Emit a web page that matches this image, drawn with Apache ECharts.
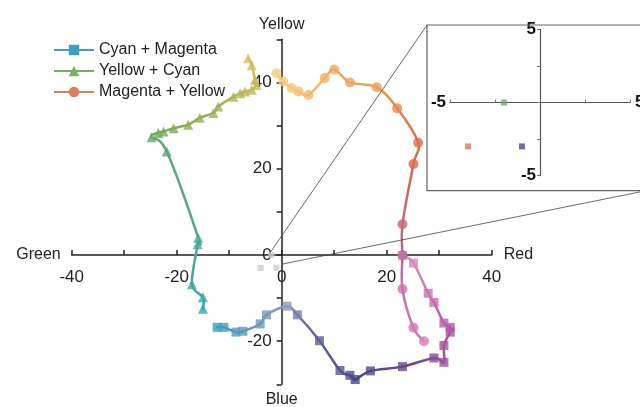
<!DOCTYPE html>
<html><head><meta charset="utf-8">
<script src="https://cdn.jsdelivr.net/npm/echarts@6/dist/echarts.min.js"></script>
<style>html,body{margin:0;padding:0;background:#fff}#c{width:640px;height:407px}</style>
</head><body><div id="c"></div>
<script>
// ---------- data ----------
const seriesNames = ['Cyan + Magenta', 'Yellow + Cyan', 'Magenta + Yellow'];

// Cyan + Magenta (squares), from cyan end to magenta end
const cmX = [-12.3, -11.0, -8.7, -7.4, -4.1, -2.9, 1.0, 3.0, 7.2, 11.1, 13.0, 14.0, 16.9, 23.0, 29.0, 30.9, 30.9, 32.1, 32.1, 30.9, 29.0, 27.9, 25.1, 23.0];
const cmY = [-16.8, -16.8, -17.9, -17.7, -16.0, -13.9, -11.9, -13.9, -19.9, -26.8, -27.9, -28.9, -26.9, -25.9, -23.9, -24.9, -21.0, -17.9, -16.8, -15.8, -11.0, -8.9, -1.9, -0.1];

// Yellow + Cyan (triangles), from yellow end to cyan end
const ycX = [-6.4, -5.7, -5.1, -4.8, -5.7, -7.0, -7.9, -9.2, -12.1, -13.0, -15.6, -17.8, -20.6, -22.5, -23.5, -24.8, -21.9, -15.9, -16.0, -17.1, -15.0, -15.0];
const ycY = [45.6, 44.0, 40.6, 39.4, 38.3, 37.9, 37.5, 36.7, 34.4, 32.9, 31.8, 30.2, 29.4, 28.6, 28.3, 27.3, 24.0, 4.0, 2.5, -6.8, -9.8, -12.5];

// Magenta + Yellow (circles), from magenta end to yellow end
const myX = [27.1, 25.1, 23.0, 23.0, 23.0, 25.1, 26.0, 22.0, 18.1, 13.0, 10.0, 8.2, 5.1, 3.2, 1.9, 0.3, -1.0];
const myY = [-20.0, -16.9, -7.9, -0.1, 7.1, 21.1, 26.0, 34.0, 38.9, 40.0, 43.0, 41.0, 37.1, 37.9, 38.7, 40.2, 42.1];

// starting (near-neutral) points shown in the inset
const startX = [-2, -4, -1];
const startY = [0, -3, -3];

// axis ranges and tick labels
const mainXRange = [-40, 40];
const mainYRange = [-30, 50];
const insetRange = [-5, 5];
const mainXLabels = [-40, -20, 0, 20, 40];
const mainYLabels = [-20, 0, 20, 40];
const insetLabels = [-5, 5];

// zoom anchor points (main chart data coords) for connector lines
const zoomFromX = [-2.1, 0];
const zoomFromY = [0.7, -2.15];

// ---------- layout / styles ----------
const FONT = 'Liberation Sans, Arial, sans-serif';
const mainGrid = {left:71.7, top:39.3, width:420, height:345};
const insetGrid = {left:450, top:29.3, width:180, height:146.4};
// offsets so that the axes cross at data zero
const zeroFrac = (r) => (0 - r[0]) / (r[1] - r[0]);
const mainYOff = -zeroFrac(mainXRange) * mainGrid.width;
const mainXOff = -zeroFrac(mainYRange) * mainGrid.height;
const insetYOff = -zeroFrac(insetRange) * insetGrid.width;
const insetXOff = -zeroFrac(insetRange) * insetGrid.height;

const legendColors = ['#3d9fc2', '#72b45c', '#e07a58'];
const startColors = ['#6aaa6a', '#e07a50', '#4a4a90'];
const paleColor = '#c6d0d6';
const cmStops = [[0,'#3a9cc2'],[0.2,'#6f98b8'],[0.26,'#8c9cbc'],[0.35,'#5c5e9a'],[0.48,'#444686'],[0.57,'#6a4890'],[0.65,'#a04f9e'],[0.8,'#b656a8'],[0.92,'#cc78b0'],[1,'#e29ab8']];
const ycStops = [[0,'#d6c05a'],[0.3,'#b4b458'],[0.55,'#86ac54'],[0.72,'#62a864'],[0.82,'#4ea89a'],[1,'#2fa6b2']];
const myStops = [[0,'#dc7cb8'],[0.125,'#cf70aa'],[0.19,'#b86a98'],[0.25,'#c86a74'],[0.31,'#d8684e'],[0.375,'#e06e48'],[0.44,'#e8884c'],[0.5,'#ec9c56'],[0.625,'#f0aa5c'],[0.75,'#f3b868'],[1,'#f8cc84']];

function hex2rgb(h){h=h.replace('#','');return [parseInt(h.substr(0,2),16),parseInt(h.substr(2,2),16),parseInt(h.substr(4,2),16)];}
function colorAt(stops, t){
  for (let k=1;k<stops.length;k++){
    if (t<=stops[k][0]+1e-9){
      const a=stops[k-1], b=stops[k];
      const f=(t-a[0])/((b[0]-a[0])||1);
      const ca=hex2rgb(a[1]), cb=hex2rgb(b[1]);
      return 'rgb('+ca.map((v,j)=>Math.round(v+(cb[j]-v)*f)).join(',')+')';
    }
  }
  return stops[stops.length-1][1];
}
function colorsFor(xs, stops){ const n=xs.length; return xs.map((_,i)=>colorAt(stops, i/(n-1))); }

function trail(xs, ys, stops){
  const n = xs.length, cols = colorsFor(xs, stops);
  const cl = k => Math.max(0, Math.min(n-1, k));
  return {
    type:'custom', xAxisIndex:0, yAxisIndex:0, z:2, silent:true, clip:false,
    data: xs.map((x,i)=>[x, ys[i]]), encode:{x:0, y:1},
    renderItem: function(params, api){
      const i = params.dataIndex;
      if (i === 0) return null;
      const P = k => { k = cl(k); return api.coord([xs[k], ys[k]]); };
      const p0=P(i-2), p1=P(i-1), p2=P(i), p3=P(i+1), s=1/6;
      return {
        type:'bezierCurve',
        shape:{x1:p1[0],y1:p1[1],x2:p2[0],y2:p2[1],
          cpx1:p1[0]+(p2[0]-p0[0])*s, cpy1:p1[1]+(p2[1]-p0[1])*s,
          cpx2:p2[0]-(p3[0]-p1[0])*s, cpy2:p2[1]-(p3[1]-p1[1])*s},
        style:{fill:'none', lineWidth:2.5, lineCap:'round',
          stroke:new echarts.graphic.LinearGradient(p1[0],p1[1],p2[0],p2[1],
            [{offset:0,color:cols[i-1]},{offset:1,color:cols[i]}], true)}
      };
    }
  };
}
function marks(xs, ys, stops, symbol, size){
  const cols = colorsFor(xs, stops);
  return {type:'scatter', xAxisIndex:0, yAxisIndex:0, z:3, silent:true, symbol:symbol, symbolSize:size,
    data: xs.map((x,i)=>({value:[x, ys[i]], itemStyle:{color:cols[i]}}))};
}

const axisColor = '#222';
const lblStyle = {fontFamily:FONT, fontSize:17, color:axisColor};
const nameStyle = {fontFamily:FONT, fontSize:16, color:axisColor};
const hidden = {axisTick:{show:false}, axisLabel:{show:false}, splitLine:{show:false}};

const chart = echarts.init(document.getElementById('c'), null, {renderer:'canvas'});
const option = {
  animation:false,
  backgroundColor:'#fff',
  textStyle:{fontFamily:FONT},
  legend:{
    orient:'vertical', left:48, top:37, itemWidth:40, itemHeight:13, itemGap:5,
    textStyle:{fontFamily:FONT, fontSize:16, color:'#222'},
    data: seriesNames
  },
  grid:[
    Object.assign({outerBoundsMode:'none', containLabel:false}, mainGrid),
    Object.assign({outerBoundsMode:'none', containLabel:false}, insetGrid)
  ],
  xAxis:[
    {gridIndex:0, type:'value', min:mainXRange[0], max:mainXRange[1], interval:10, position:'bottom', offset:mainXOff,
     name:'Red', nameLocation:'end', nameGap:12, nameTextStyle:Object.assign({verticalAlign:'middle'}, nameStyle),
     axisLine:{onZero:false, lineStyle:{color:axisColor, width:1.5}},
     axisTick:{inside:true, length:5, lineStyle:{color:axisColor, width:1.5}},
     axisLabel:Object.assign({margin:14, formatter:v=>mainXLabels.includes(v)?String(v):''}, lblStyle),
     splitLine:{show:false}},
    Object.assign({gridIndex:0, type:'value', min:mainXRange[0], max:mainXRange[1], interval:10, position:'bottom', offset:mainXOff,
     name:'Green', nameLocation:'start', nameGap:11, nameTextStyle:Object.assign({verticalAlign:'middle'}, nameStyle)},
     hidden, {axisLine:{show:false, onZero:false}}),
    {gridIndex:1, type:'value', min:insetRange[0], max:insetRange[1], interval:2.5, position:'bottom', offset:insetXOff,
     axisLine:{onZero:false, lineStyle:{color:'#555', width:1.2}},
     axisTick:{inside:true, length:3, lineStyle:{color:'#777', width:1}},
     axisLabel:{margin:0, verticalAlign:'middle', alignMinLabel:'right', alignMaxLabel:'left',
       padding:[0,4,0,5], fontFamily:FONT, fontSize:17, fontWeight:'bold', color:'#111',
       formatter:v=>insetLabels.includes(v)?String(v):''},
     splitLine:{show:false}}
  ],
  yAxis:[
    {gridIndex:0, type:'value', min:mainYRange[0], max:mainYRange[1], interval:10, position:'left', offset:mainYOff,
     name:'Yellow', nameLocation:'end', nameGap:7, nameTextStyle:nameStyle,
     axisLine:{onZero:false, lineStyle:{color:axisColor, width:1.5}},
     axisTick:{inside:false, length:5, lineStyle:{color:axisColor, width:1.5}},
     axisLabel:Object.assign({margin:10, formatter:v=>mainYLabels.includes(v)?String(v):''}, lblStyle),
     splitLine:{show:false}},
    Object.assign({gridIndex:0, type:'value', min:mainYRange[0], max:mainYRange[1], interval:10, position:'left', offset:mainYOff,
     name:'Blue', nameLocation:'start', nameGap:7, nameTextStyle:nameStyle},
     hidden, {axisLine:{show:false, onZero:false}}),
    {gridIndex:1, type:'value', min:insetRange[0], max:insetRange[1], interval:2.5, position:'left', offset:insetYOff,
     axisLine:{onZero:false, lineStyle:{color:'#555', width:1.2}},
     axisTick:{inside:false, length:3, lineStyle:{color:'#777', width:1}},
     axisLabel:{margin:4, fontFamily:FONT, fontSize:17, fontWeight:'bold', color:'#111',
       formatter:v=>insetLabels.includes(v)?String(v):''},
     splitLine:{show:false}}
  ],
  series:[
    {type:'line', name:seriesNames[0], data:[], symbol:'rect', symbolSize:9, color:legendColors[0], lineStyle:{width:2.5}},
    {type:'line', name:seriesNames[1], data:[], symbol:'triangle', symbolSize:10, color:legendColors[1], lineStyle:{width:2.5}},
    {type:'line', name:seriesNames[2], data:[], symbol:'circle', symbolSize:10, color:legendColors[2], lineStyle:{width:2.5}},
    trail(cmX, cmY, cmStops),
    trail(ycX, ycY, ycStops),
    trail(myX, myY, myStops),
    marks(cmX, cmY, cmStops, 'rect', 9),
    marks(ycX, ycY, ycStops, 'triangle', 10),
    marks(myX, myY, myStops, 'circle', 10),
    {type:'scatter', xAxisIndex:0, yAxisIndex:0, z:3, silent:true, symbol:'rect', symbolSize:6,
     itemStyle:{color:paleColor}, data:startX.map((x,i)=>[x, startY[i]])},
    {type:'scatter', xAxisIndex:2, yAxisIndex:2, z:3, silent:true, symbol:'rect', symbolSize:6,
     data:startX.map((x,i)=>({value:[x, startY[i]], itemStyle:{color:startColors[i]}}))}
  ]
};
chart.setOption(option);

// inset frame and connector lines
const box = {x1:427, y1:25, x2:646, y2:190.7};
const a1 = chart.convertToPixel({gridIndex:0}, [zoomFromX[0], zoomFromY[0]]);
const a2 = chart.convertToPixel({gridIndex:0}, [zoomFromX[1], zoomFromY[1]]);
chart.setOption({graphic:[
  {type:'rect', z:10, silent:true, shape:{x:box.x1, y:box.y1, width:box.x2-box.x1, height:box.y2-box.y1},
   style:{fill:'none', stroke:'#666', lineWidth:1.2}},
  {type:'line', z:10, silent:true, shape:{x1:a1[0], y1:a1[1], x2:box.x1, y2:box.y1}, style:{stroke:'#444', lineWidth:0.8}},
  {type:'line', z:10, silent:true, shape:{x1:a2[0], y1:a2[1], x2:box.x2, y2:box.y2}, style:{stroke:'#444', lineWidth:0.8}}
]});
</script>
</body></html>
